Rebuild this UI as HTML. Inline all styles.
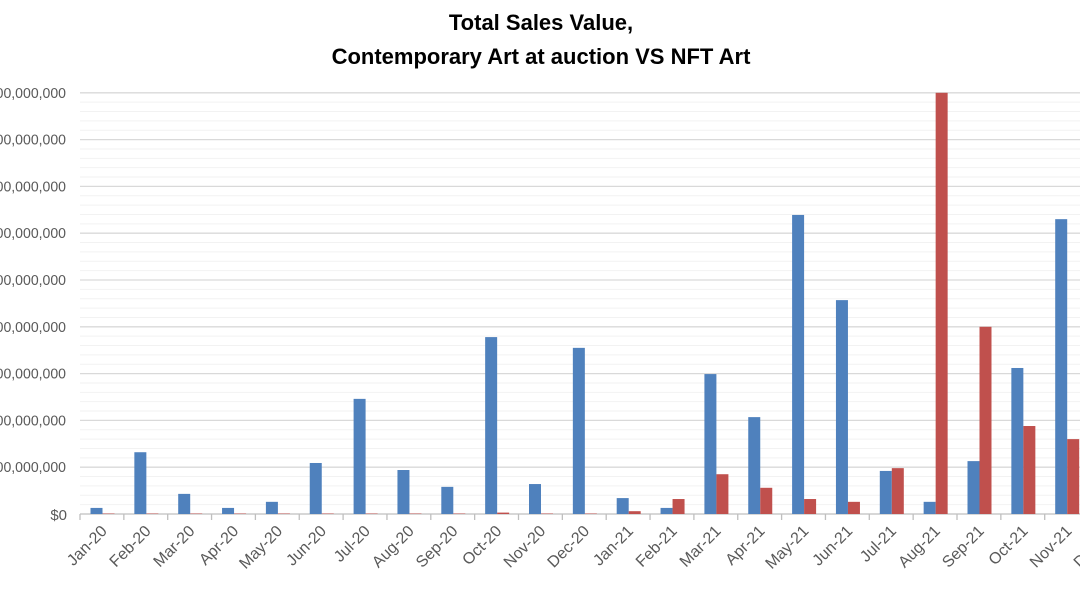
<!DOCTYPE html>
<html><head><meta charset="utf-8"><style>
html,body{margin:0;padding:0;background:#fff;}
svg{display:block;font-family:"Liberation Sans",sans-serif;}
</style></head><body>
<svg width="1080" height="599" viewBox="0 0 1080 599" xmlns="http://www.w3.org/2000/svg">
<text x="541" y="30" text-anchor="middle" font-size="22" font-weight="bold" fill="#000">Total Sales Value,</text>
<text x="541" y="64" text-anchor="middle" font-size="22" font-weight="bold" fill="#000">Contemporary Art at auction VS NFT Art</text>
<g id="grid"></g>
<g id="bars"></g>
<g id="labels" fill="#595959"></g>
<script>
const NS="http://www.w3.org/2000/svg";
function el(t,a,p,txt){const e=document.createElementNS(NS,t);for(const k in a)e.setAttribute(k,a[k]);if(txt!==undefined)e.textContent=txt;document.getElementById(p).appendChild(e);return e;}
const y0=514, per=0.468;
for(let i=0;i<45;i++){const y=y0-i*per*20; if(i%5==0)continue; el('line',{x1:80,x2:1080,y1:y,y2:y,stroke:'#f2f2f2','stroke-width':1},'grid');}
for(let i=1;i<=9;i++){const y=y0-i*per*100; el('line',{x1:80,x2:1080,y1:y,y2:y,stroke:'#d9d9d9','stroke-width':1.3},'grid');
 el('text',{x:66,y:y+5,'text-anchor':'end','font-size':14.5,textLength:86,lengthAdjust:'spacingAndGlyphs'},'labels','$'+i+'00,000,000');}
el('text',{x:67,y:y0+6,'text-anchor':'end','font-size':15},'labels','$0');
el('line',{x1:80,x2:1080,y1:y0,y2:y0,stroke:'#bfbfbf','stroke-width':1.3},'grid');
const m=['Jan-20','Feb-20','Mar-20','Apr-20','May-20','Jun-20','Jul-20','Aug-20','Sep-20','Oct-20','Nov-20','Dec-20','Jan-21','Feb-21','Mar-21','Apr-21','May-21','Jun-21','Jul-21','Aug-21','Sep-21','Oct-21','Nov-21','Dec-21'];
const b=[13,132,43,13,26,109,246,94,58,378,64,355,34,13,299,207,639,457,92,26,113,312,630,0];
const r=[1,1,1,1,1,1,1,1,1,3,1,1,6,32,85,56,32,26,98,900,400,188,160,0];
const w=43.85;
for(let i=0;i<24;i++){const x=80+w*i;
 el('line',{x1:x,x2:x,y1:y0,y2:y0+6,stroke:'#bfbfbf','stroke-width':1.3},'grid');
 el('rect',{x:x+10.5,y:y0-b[i]*per,width:12,height:b[i]*per,fill:'#4F81BD'},'bars');
 el('rect',{x:x+22.5,y:y0-r[i]*per,width:12,height:r[i]*per,fill:'#C0504D'},'bars');
 const cx=x+w/2+6, cy=532;
 el('text',{x:cx,y:cy,'text-anchor':'end','font-size':16,transform:`rotate(-45 ${cx} ${cy})`},'labels',m[i]);
}
</script>
</svg>
</body></html>
